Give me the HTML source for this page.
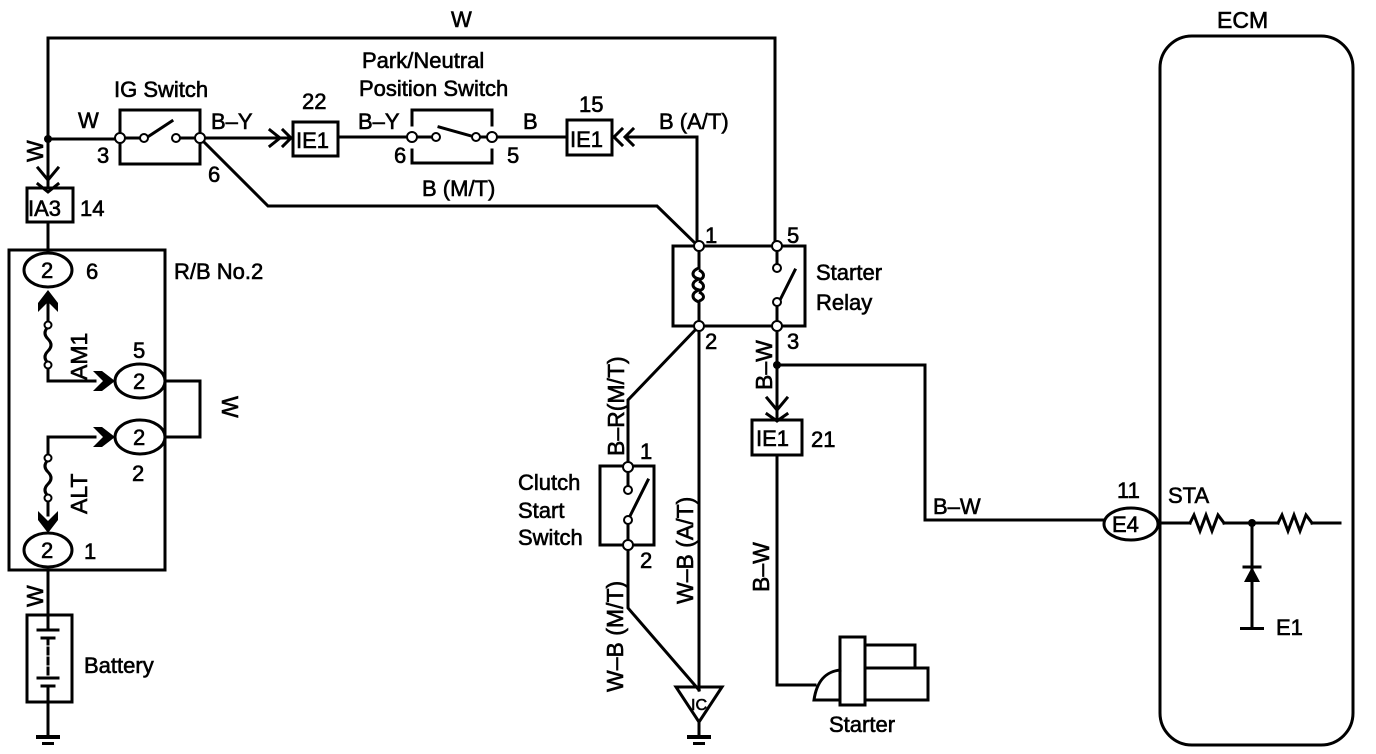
<!DOCTYPE html>
<html><head><meta charset="utf-8"><style>
html,body{margin:0;padding:0;background:#fff;}
svg{display:block;}
text{font-family:"Liberation Sans",Arial,sans-serif;fill:#000;stroke:#000;stroke-width:0.6;}
</style></head><body>
<svg width="1376" height="754" viewBox="0 0 1376 754" xmlns="http://www.w3.org/2000/svg">
<g fill="none" stroke="#000" stroke-width="3" stroke-linecap="square">
<polyline points="48,139 48,38 775,38 775,245"/>
<line x1="48" y1="139" x2="48" y2="188"/>
<polyline points="38,168 48,180 58,168"/>
<polyline points="38,184 48,192 58,184"/>
<rect x="27" y="188" width="46" height="34"/>
<line x1="48" y1="222" x2="48" y2="253"/>
<line x1="48" y1="139" x2="120" y2="139"/>
<rect x="120" y="110" width="80" height="54"/>
<line x1="146" y1="138" x2="172" y2="121"/>
<line x1="142" y1="138" x2="120" y2="138"/>
<line x1="178" y1="138" x2="200" y2="138"/>
<line x1="200" y1="138" x2="292" y2="138"/>
<polyline points="270,130 280,138 270,146"/>
<polyline points="283,130 291,138 283,146"/>
<rect x="293" y="122" width="45" height="34"/>
<line x1="338" y1="137" x2="412" y2="137"/>
<polyline points="412,125 412,110 492,110 492,125"/>
<polyline points="412,150 412,163 492,163 492,150"/>
<line x1="412" y1="137" x2="434" y2="137"/>
<line x1="439" y1="127" x2="475" y2="137"/>
<line x1="478" y1="137" x2="492" y2="137"/>
<line x1="492" y1="137" x2="567" y2="137"/>
<rect x="567" y="120" width="45" height="35"/>
<polyline points="622,129 614,137 622,145"/>
<polyline points="633,129 625,137 633,145"/>
<line x1="626" y1="137" x2="697" y2="137"/>
<line x1="697" y1="137" x2="697" y2="245"/>
<polyline points="200,138 268,206 657,206 697,245"/>
<rect x="673" y="246" width="132" height="80"/>
<line x1="699" y1="246" x2="699" y2="268"/>
<line x1="699" y1="302" x2="699" y2="326"/>
<line x1="777" y1="246" x2="777" y2="262"/>
<line x1="777" y1="308" x2="777" y2="326"/>
<line x1="779" y1="302" x2="795" y2="270"/>
<line x1="699" y1="326" x2="699" y2="690"/>
<polygon points="676,687 722,687 699,722"/>
<line x1="699" y1="722" x2="699" y2="735"/>
<polyline points="699,326 628,400 628,467"/>
<rect x="600" y="466" width="54" height="79"/>
<line x1="628" y1="467" x2="628" y2="486"/>
<line x1="628" y1="520" x2="628" y2="545"/>
<line x1="630" y1="516" x2="648" y2="480"/>
<polyline points="628,545 628,608 699,690"/>
<line x1="777" y1="326" x2="777" y2="420"/>
<polyline points="767,398 777,410 787,398"/>
<polyline points="767,414 777,421 787,414"/>
<rect x="752" y="420" width="50" height="35"/>
<polyline points="777,455 777,685 815,685"/>
<polyline points="777,365 925,365 925,520 1105,520"/>
<rect x="840" y="637" width="25" height="68"/>
<polyline points="865,645 915,645 915,668"/>
<polyline points="865,668 928,668 928,700 865,700"/>
<path d="M840,670 Q818,672 814,700 L840,700"/>
<rect x="1160" y="36" width="193" height="709" rx="32"/>
<line x1="1158" y1="523" x2="1190" y2="523"/>
<polyline points="1190,523 1194,515 1200,531 1206,515 1212,531 1218,515 1224,523"/>
<line x1="1224" y1="523" x2="1278" y2="523"/>
<polyline points="1278,523 1282,515 1288,531 1294,515 1300,531 1306,515 1312,523"/>
<line x1="1312" y1="523" x2="1340" y2="523"/>
<line x1="1252" y1="523" x2="1252" y2="628"/>
<line x1="1244" y1="567" x2="1260" y2="567"/>
<rect x="9" y="250" width="156" height="320"/>
<ellipse cx="48" cy="270" rx="24" ry="17"/>
<ellipse cx="140" cy="381" rx="25" ry="17"/>
<ellipse cx="140" cy="437" rx="25" ry="17"/>
<ellipse cx="48" cy="550" rx="24" ry="17"/>
<polyline points="165,381 200,381 200,437 165,437"/>
<line x1="48" y1="300" x2="48" y2="327"/>
<path d="M48,327 q-6,6 0,12 q6,6 0,12 q-6,6 0,12"/>
<polyline points="48,363 48,381 95,381"/>
<polyline points="95,437 48,437 48,460"/>
<path d="M48,460 q-6,6 0,12 q6,6 0,12 q-6,6 0,12"/>
<line x1="48" y1="496" x2="48" y2="515"/>
<line x1="48" y1="570" x2="48" y2="615"/>
<rect x="27" y="615" width="45" height="87"/>
<line x1="48" y1="615" x2="48" y2="630"/>
<line x1="38" y1="630" x2="58" y2="630"/>
<line x1="42" y1="638" x2="54" y2="638"/>
<line x1="48" y1="638" x2="48" y2="675" stroke-dasharray="6,4"/>
<line x1="38" y1="678" x2="58" y2="678"/>
<line x1="42" y1="686" x2="54" y2="686"/>
<line x1="48" y1="686" x2="48" y2="735"/>
</g>
<g fill="#000">
<circle cx="48" cy="139" r="4"/>
<circle cx="777" cy="365" r="4"/>
<circle cx="1252" cy="523" r="4"/>
<polygon points="1252,567 1244,582 1260,582"/>
<rect x="36" y="735" width="24" height="4"/><rect x="42" y="742" width="12" height="3"/>
<rect x="687" y="735" width="24" height="4"/><rect x="693" y="742" width="12" height="3"/>
<rect x="1240" y="627" width="24" height="3"/>
<polygon points="48,290 38,303 38,312 48,302 58,312 58,303"/>
<polygon points="115,381 102,371 93,371 103,381 93,391 102,391"/>
<polygon points="115,437 102,427 93,427 103,437 93,447 102,447"/>
<polygon points="48,533 38,520 38,511 48,521 58,511 58,520"/>
</g>
<g fill="#fff" stroke="#000" stroke-width="2">
<circle cx="120" cy="138" r="5"/><circle cx="144" cy="138" r="4"/><circle cx="176" cy="138" r="4"/><circle cx="200" cy="138" r="5"/>
<circle cx="412" cy="137" r="5"/><circle cx="436" cy="137" r="4"/><circle cx="476" cy="137" r="4"/><circle cx="492" cy="137" r="5"/>
<circle cx="699" cy="246" r="5"/><circle cx="777" cy="246" r="5"/><circle cx="699" cy="326" r="5"/><circle cx="777" cy="326" r="5"/>
<circle cx="777" cy="268" r="4"/><circle cx="777" cy="302" r="4"/>
<circle cx="628" cy="467" r="5"/><circle cx="628" cy="490" r="4"/><circle cx="628" cy="520" r="4"/><circle cx="628" cy="545" r="5"/>
<circle cx="48" cy="325" r="3.5"/><circle cx="48" cy="365" r="3.5"/>
<circle cx="48" cy="458" r="3.5"/><circle cx="48" cy="498" r="3.5"/>
</g>
<ellipse cx="1131" cy="524" rx="27" ry="16" fill="#fff" stroke="#000" stroke-width="3"/>
<g fill="none" stroke="#000" stroke-width="3">
<path d="M699,268 c-8,3 -8,9 0,11 c-8,3 -8,9 0,11 c-8,3 -8,9 0,12"/>
<path d="M699,270 c6,3 6,8 0,10 M699,281 c6,3 6,8 0,10 M699,292 c6,3 6,7 0,9"/>
</g>
<g font-size="22">
<text x="451" y="27">W</text>
<text x="114" y="97">IG Switch</text>
<text x="78" y="128">W</text>
<text x="97" y="163">3</text>
<text x="208" y="182">6</text>
<text x="211" y="129">B–Y</text>
<text x="302" y="109">22</text>
<text x="296" y="148">IE1</text>
<text x="358" y="129">B–Y</text>
<text x="362" y="68">Park/Neutral</text>
<text x="359" y="96">Position Switch</text>
<text x="394" y="163">6</text>
<text x="507" y="163">5</text>
<text x="523" y="129">B</text>
<text x="579" y="112">15</text>
<text x="570" y="147">IE1</text>
<text x="659" y="129">B (A/T)</text>
<text x="422" y="196">B  (M/T)</text>
<text x="28" y="216">IA3</text>
<text x="80" y="216">14</text>
<text x="174" y="279">R/B No.2</text>
<text x="41" y="278">2</text>
<text x="86" y="279">6</text>
<text x="133" y="358">5</text>
<text x="133" y="389">2</text>
<text x="133" y="445">2</text>
<text x="132" y="481">2</text>
<text x="41" y="558">2</text>
<text x="84" y="559">1</text>
<text x="84" y="673">Battery</text>
<text x="705" y="243">1</text>
<text x="787" y="243">5</text>
<text x="705" y="349">2</text>
<text x="787" y="349">3</text>
<text x="816" y="280">Starter</text>
<text x="816" y="310">Relay</text>
<text x="640" y="459">1</text>
<text x="640" y="568">2</text>
<text x="518" y="490">Clutch</text>
<text x="518" y="518">Start</text>
<text x="518" y="545">Switch</text>
<text x="756" y="446">IE1</text>
<text x="811" y="447">21</text>
<text x="829" y="732">Starter</text>
<text x="933" y="514">B–W</text>
<text x="1117" y="498">11</text>
<text x="1112" y="532">E4</text>
<text x="1168" y="503">STA</text>
<text x="1276" y="635">E1</text>
<text x="1217" y="28" font-size="23">ECM</text>
<text x="691" y="710" font-size="16" stroke-width="0.3">IC</text>
</g>
<g font-size="23">
<text transform="translate(43,162) rotate(-90)">W</text>
<text transform="translate(43,607) rotate(-90)">W</text>
<text transform="translate(222,396) rotate(90)">W</text>
<text transform="translate(87,380) rotate(-90)">AM1</text>
<text transform="translate(87,514) rotate(-90)">ALT</text>
<text transform="translate(624,456) rotate(-90)">B–R(M/T)</text>
<text transform="translate(693,604) rotate(-90)">W–B (A/T)</text>
<text transform="translate(623,692) rotate(-90)">W–B (M/T)</text>
<text transform="translate(772,390) rotate(-90)">B–W</text>
<text transform="translate(769,592) rotate(-90)">B–W</text>
</g>
</svg>
</body></html>
